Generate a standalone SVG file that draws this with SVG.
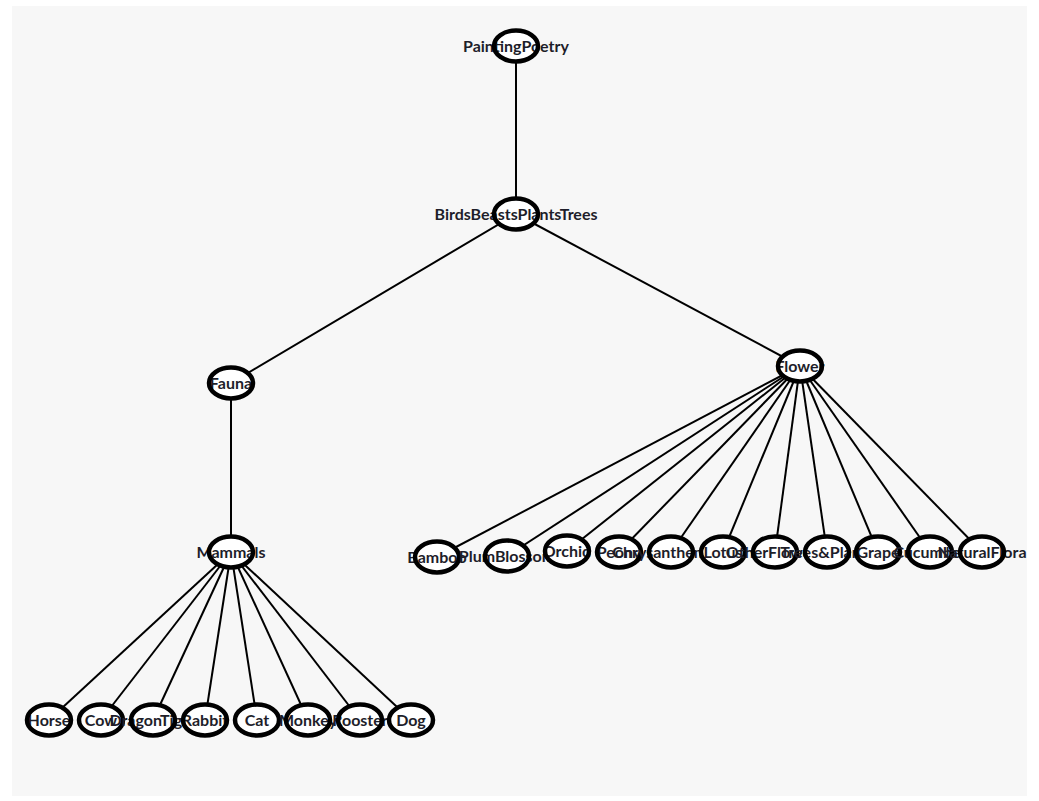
<svg xmlns="http://www.w3.org/2000/svg" width="1039" height="801" viewBox="0 0 1039 801">
<style>
.bg{fill:#f7f7f7}
.e{stroke:#000;stroke-width:2;fill:none}
.f{fill:#fff;stroke:none}
.s{fill:none;stroke:#000;stroke-width:4.5}
.t{font-family:Lato,"Liberation Sans",sans-serif;font-weight:bold;font-size:16px;fill:#1e1e2a;text-anchor:middle}
</style>
<rect x="0" y="0" width="1039" height="801" fill="#fff"/>
<rect class="bg" x="12" y="6" width="1015" height="790"/>
<g id="connectors">
<line class="e" x1="516" y1="46" x2="516" y2="214"/>
<line class="e" x1="516" y1="214" x2="231" y2="383"/>
<line class="e" x1="516" y1="214" x2="800" y2="366"/>
<line class="e" x1="231" y1="383" x2="231" y2="552"/>
<line class="e" x1="231" y1="552" x2="49" y2="720"/>
<line class="e" x1="231" y1="552" x2="101" y2="720"/>
<line class="e" x1="231" y1="552" x2="153" y2="720"/>
<line class="e" x1="231" y1="552" x2="205" y2="720"/>
<line class="e" x1="231" y1="552" x2="257" y2="720"/>
<line class="e" x1="231" y1="552" x2="308" y2="720"/>
<line class="e" x1="231" y1="552" x2="360" y2="720"/>
<line class="e" x1="231" y1="552" x2="411" y2="720"/>
<line class="e" x1="800" y1="366" x2="437" y2="557"/>
<line class="e" x1="800" y1="366" x2="507" y2="556"/>
<line class="e" x1="800" y1="366" x2="567" y2="551"/>
<line class="e" x1="800" y1="366" x2="619" y2="552"/>
<line class="e" x1="800" y1="366" x2="671" y2="552"/>
<line class="e" x1="800" y1="366" x2="723" y2="552"/>
<line class="e" x1="800" y1="366" x2="775" y2="552"/>
<line class="e" x1="800" y1="366" x2="827" y2="552"/>
<line class="e" x1="800" y1="366" x2="878" y2="552"/>
<line class="e" x1="800" y1="366" x2="930" y2="552"/>
<line class="e" x1="800" y1="366" x2="982" y2="552"/>
</g>
<g id="n-PaintingPoetry"><ellipse class="f" cx="516" cy="46" rx="22" ry="15.5"/><text class="t" x="516" y="52">PaintingPoetry</text><ellipse class="s" cx="516" cy="46" rx="22" ry="15.5"/></g>
<g id="n-BirdsBeastsPlantsTrees"><ellipse class="f" cx="516" cy="214" rx="22" ry="15.5"/><text class="t" x="516" y="220">BirdsBeastsPlantsTrees</text><ellipse class="s" cx="516" cy="214" rx="22" ry="15.5"/></g>
<g id="n-Fauna"><ellipse class="f" cx="231" cy="383" rx="22" ry="15.5"/><text class="t" x="231" y="389">Fauna</text><ellipse class="s" cx="231" cy="383" rx="22" ry="15.5"/></g>
<g id="n-Flower"><ellipse class="f" cx="800" cy="366" rx="22" ry="15.5"/><text class="t" x="800" y="372">Flower</text><ellipse class="s" cx="800" cy="366" rx="22" ry="15.5"/></g>
<g id="n-Mammals"><ellipse class="f" cx="231" cy="552" rx="22" ry="15.5"/><text class="t" x="231" y="558">Mammals</text><ellipse class="s" cx="231" cy="552" rx="22" ry="15.5"/></g>
<g id="n-Horse"><ellipse class="f" cx="49" cy="720" rx="22" ry="15.5"/><text class="t" x="49" y="726">Horse</text><ellipse class="s" cx="49" cy="720" rx="22" ry="15.5"/></g>
<g id="n-Cow"><ellipse class="f" cx="101" cy="720" rx="22" ry="15.5"/><text class="t" x="101" y="726">Cow</text><ellipse class="s" cx="101" cy="720" rx="22" ry="15.5"/></g>
<g id="n-DragonTiger"><ellipse class="f" cx="153" cy="720" rx="22" ry="15.5"/><text class="t" x="153" y="726">DragonTiger</text><ellipse class="s" cx="153" cy="720" rx="22" ry="15.5"/></g>
<g id="n-Rabbit"><ellipse class="f" cx="205" cy="720" rx="22" ry="15.5"/><text class="t" x="205" y="726">Rabbit</text><ellipse class="s" cx="205" cy="720" rx="22" ry="15.5"/></g>
<g id="n-Cat"><ellipse class="f" cx="257" cy="720" rx="22" ry="15.5"/><text class="t" x="257" y="726">Cat</text><ellipse class="s" cx="257" cy="720" rx="22" ry="15.5"/></g>
<g id="n-Monkey"><ellipse class="f" cx="308" cy="720" rx="22" ry="15.5"/><text class="t" x="308" y="726">Monkey</text><ellipse class="s" cx="308" cy="720" rx="22" ry="15.5"/></g>
<g id="n-Rooster"><ellipse class="f" cx="360" cy="720" rx="22" ry="15.5"/><text class="t" x="360" y="726">Rooster</text><ellipse class="s" cx="360" cy="720" rx="22" ry="15.5"/></g>
<g id="n-Dog"><ellipse class="f" cx="411" cy="720" rx="22" ry="15.5"/><text class="t" x="411" y="726">Dog</text><ellipse class="s" cx="411" cy="720" rx="22" ry="15.5"/></g>
<g id="n-Bamboo"><ellipse class="f" cx="437" cy="557" rx="22" ry="15.5"/><text class="t" x="437" y="563">Bamboo</text><ellipse class="s" cx="437" cy="557" rx="22" ry="15.5"/></g>
<g id="n-PlumBlossom"><ellipse class="f" cx="507" cy="556" rx="22" ry="15.5"/><text class="t" x="507" y="562">PlumBlossom</text><ellipse class="s" cx="507" cy="556" rx="22" ry="15.5"/></g>
<g id="n-Orchid"><ellipse class="f" cx="567" cy="551" rx="22" ry="15.5"/><text class="t" x="567" y="557">Orchid</text><ellipse class="s" cx="567" cy="551" rx="22" ry="15.5"/></g>
<g id="n-Peony"><ellipse class="f" cx="619" cy="552" rx="22" ry="15.5"/><text class="t" x="619" y="558">Peony</text><ellipse class="s" cx="619" cy="552" rx="22" ry="15.5"/></g>
<g id="n-Chrysanthemum"><ellipse class="f" cx="671" cy="552" rx="22" ry="15.5"/><text class="t" x="671" y="558">Chrysanthemum</text><ellipse class="s" cx="671" cy="552" rx="22" ry="15.5"/></g>
<g id="n-Lotus"><ellipse class="f" cx="723" cy="552" rx="22" ry="15.5"/><text class="t" x="723" y="558">Lotus</text><ellipse class="s" cx="723" cy="552" rx="22" ry="15.5"/></g>
<g id="n-OtherFlowers"><ellipse class="f" cx="775" cy="552" rx="22" ry="15.5"/><text class="t" x="775" y="558">OtherFlowers</text><ellipse class="s" cx="775" cy="552" rx="22" ry="15.5"/></g>
<g id="n-TreesPlants"><ellipse class="f" cx="827" cy="552" rx="22" ry="15.5"/><text class="t" x="827" y="558">Trees&amp;Plants</text><ellipse class="s" cx="827" cy="552" rx="22" ry="15.5"/></g>
<g id="n-Grape"><ellipse class="f" cx="878" cy="552" rx="22" ry="15.5"/><text class="t" x="878" y="558">Grape</text><ellipse class="s" cx="878" cy="552" rx="22" ry="15.5"/></g>
<g id="n-Cucumber"><ellipse class="f" cx="930" cy="552" rx="22" ry="15.5"/><text class="t" x="930" y="558">Cucumber</text><ellipse class="s" cx="930" cy="552" rx="22" ry="15.5"/></g>
<g id="n-NaturalFlora"><ellipse class="f" cx="982" cy="552" rx="22" ry="15.5"/><text class="t" x="982" y="558">NaturalFlora</text><ellipse class="s" cx="982" cy="552" rx="22" ry="15.5"/></g>
</svg>
